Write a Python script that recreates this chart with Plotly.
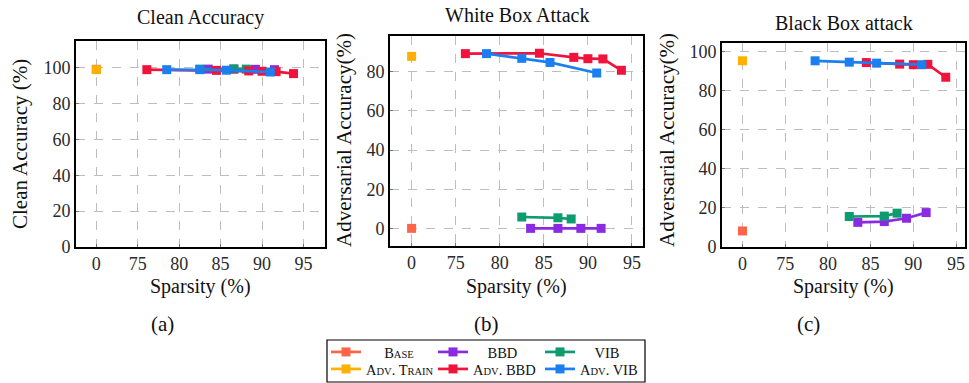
import plotly.graph_objects as go

W, H = 969, 383

# ---- data -------------------------------------------------------------
# sparsity (%) per method; 0 is the dense model shown left of the axis break
base_x = [0]
advtrain_x = [0]
bbd_x = [83.5, 86.6, 89.2, 91.5]
vib_x = [82.5, 86.6, 88.1]
advbbd_x = [76.1, 84.5, 88.4, 90.0, 91.7, 93.8]
advvib_x = [78.5, 82.5, 85.7, 91.0]

# clean accuracy (%)
clean_base = [99.2]
clean_advtrain = [99.0]
clean_bbd = [99.3, 99.3, 99.2, 99.0]
clean_vib = [99.3, 99.4, 99.3]
clean_advbbd = [99.0, 98.6, 98.3, 98.1, 97.9, 96.8]
clean_advvib = [99.0, 99.0, 98.7, 97.7]

# white-box adversarial accuracy (%)
white_base = [0.0]
white_advtrain = [87.8]
white_bbd = [0.0, 0.0, 0.0, 0.0]
white_vib = [5.8, 5.4, 4.8]
white_advbbd = [89.2, 89.4, 87.3, 86.6, 86.5, 80.7]
white_advvib = [89.2, 86.8, 84.7, 79.3]

# black-box adversarial accuracy (%)
black_base = [8.2]
black_advtrain = [95.2]
black_bbd = [12.6, 13.0, 14.7, 17.6]
black_vib = [15.6, 15.8, 17.3]
black_advbbd = [None, 94.3, 93.5, 93.2, 93.4, 86.8]
black_advvib = [95.2, 94.5, 94.0, 93.2]

x_ticks = [0, 75, 80, 85, 90, 95]

panel_titles = ["Clean Accuracy", "White Box Attack", "Black Box attack"]
panel_letters = ["(a)", "(b)", "(c)"]
y_titles = ["Clean Accuracy (%)", "Adversarial Accuracy(%)", "Adversarial Accuracy(%)"]

NB = "\u00a0"
SC = "<span style='font-size:10.5px'>{}</span>"  # small-caps lower part

methods = [
    # name, legend label, color, x, per-panel values, legend id
    ("Base", NB * 5 + "B" + SC.format("ASE"), "#FF6448", base_x,
     [clean_base, white_base, black_base], "legend"),
    ("BBD", NB * 4 + "BBD", "#8A2BE2", bbd_x, [clean_bbd, white_bbd, black_bbd], "legend"),
    ("VIB", NB * 4 + "VIB", "#0E9B70", vib_x, [clean_vib, white_vib, black_vib], "legend"),
    ("Adv. Train", "A" + SC.format("DV") + ". T" + SC.format("RAIN"),
     "#FFB000", advtrain_x, [clean_advtrain, white_advtrain, black_advtrain], "legend2"),
    ("Adv. BBD", "A" + SC.format("DV") + ". BBD", "#F0143C", advbbd_x,
     [clean_advbbd, white_advbbd, black_advbbd], "legend2"),
    ("Adv. VIB", "A" + SC.format("DV") + ". VIB", "#1B7FF0", advvib_x,
     [clean_advvib, white_advvib, black_advvib], "legend2"),
]


def axis_pos(v):
    # the dense model (0 %) sits one tick to the left of 75 on a broken axis
    return 70 if v == 0 else v


SERIF = "Liberation Serif, Times New Roman, Times, serif"

# panel boxes in pixels: (left, right, top, bottom)
boxes = [(76, 325, 41, 247), (390, 643, 36, 246), (722, 965, 43, 247)]
x_ranges = [[67.55, 97.6], [67.55, 96.25], [67.6, 96.05]]
y_ranges = [[0, 115], [-9, 98.2], [0, 104.3]]

title_y = [17, 15, 23]
ytitle_x = [20, 344, 667]
ytitle_y = [144, 140, 140]
letter_x = [162, 487, 808]

fig = go.Figure()

for p in range(3):
    ax = "" if p == 0 else str(p + 1)
    for name, label, color, xs, vals, leg in methods:
        ys = vals[p]
        px = [axis_pos(v) for v, y in zip(xs, ys) if y is not None]
        py = [y for y in ys if y is not None]
        fig.add_trace(go.Scatter(
            x=px, y=py, mode="lines+markers", name=label,
            line=dict(color=color, width=2.7),
            marker=dict(symbol="square", size=9, color=color,
                        line=dict(color=color, width=0)),
            xaxis="x" + ax, yaxis="y" + ax,
            legend=leg, showlegend=(p == 0),
        ))

layout = dict(
    width=W, height=H,
    margin=dict(l=0, r=0, t=0, b=0, autoexpand=False),
    paper_bgcolor="white", plot_bgcolor="white",
    font=dict(family=SERIF, color="#222", size=18),
)

annotations = []
for p, (l, r, t, b) in enumerate(boxes):
    ax = "" if p == 0 else str(p + 1)
    common = dict(showline=True, mirror=True, linecolor="black", linewidth=1.6,
                  showgrid=True, gridcolor="#bdbdbd", griddash="dash", gridwidth=1,
                  zeroline=False, ticks="inside", ticklen=3, tickcolor="#777",
                  tickfont=dict(family=SERIF, size=18, color="#2a2a2a"))
    layout["xaxis" + ax] = dict(
        domain=[l / W, r / W], anchor="y" + ax, range=x_ranges[p],
        tickmode="array", tickvals=[axis_pos(v) for v in x_ticks],
        ticktext=[str(v) for v in x_ticks], **common)
    layout["yaxis" + ax] = dict(
        domain=[1 - b / H, 1 - t / H], anchor="x" + ax, range=y_ranges[p],
        tickmode="array", tickvals=[0, 20, 40, 60, 80, 100], **common)
    cx = (l + r) / 2
    txt = dict(xref="paper", yref="paper", showarrow=False,
               xanchor="center", yanchor="middle")
    annotations.append(dict(text=panel_titles[p], x=cx / W, y=1 - title_y[p] / H,
                            font=dict(family=SERIF, size=20, color="#111"), **txt))
    annotations.append(dict(text="Sparsity (%)", x=cx / W, y=1 - 286 / H,
                            font=dict(family=SERIF, size=20, color="#111"), **txt))
    annotations.append(dict(text=panel_letters[p], x=letter_x[p] / W, y=1 - 324 / H,
                            font=dict(family=SERIF, size=21, color="#111"), **txt))
    annotations.append(dict(text=y_titles[p], x=ytitle_x[p] / W, y=1 - ytitle_y[p] / H,
                            textangle=-90,
                            font=dict(family=SERIF, size=21, color="#111"), **txt))

layout["annotations"] = annotations

legend_common = dict(orientation="h", xanchor="left", yanchor="top",
                     entrywidth=62, entrywidthmode="pixels", itemwidth=30,
                     bgcolor="rgba(0,0,0,0)", borderwidth=0,
                     font=dict(family=SERIF, size=14.5, color="#111"))
layout["legend"] = dict(x=326 / W, y=1 - 336 / H, **legend_common)
layout["legend2"] = dict(x=326 / W, y=1 - 353 / H, **legend_common)

layout["shapes"] = [dict(type="rect", xref="paper", yref="paper",
                         x0=327 / W, x1=645 / W, y0=1 - 382 / H, y1=1 - 340 / H,
                         line=dict(color="black", width=1.2))]

fig.update_layout(**layout)
fig.write_html("out.html")
